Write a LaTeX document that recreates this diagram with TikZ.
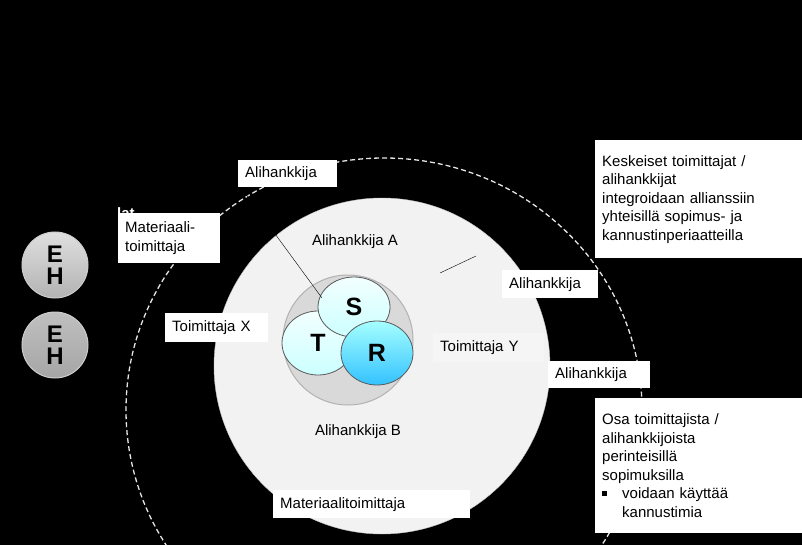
\documentclass[tikz,border=0pt]{standalone}
\usepackage{fontspec}
\setmainfont{Liberation Sans}
\usetikzlibrary{shapes.geometric}
\begin{document}
\begin{tikzpicture}[x=1pt,y=-1pt,
  lbl/.style={fill=white,inner xsep=7pt,inner ysep=3pt,font=\fontsize{15}{18.5}\selectfont,anchor=north west,align=left},
  plain/.style={font=\fontsize{15}{18}\selectfont,text=black},
  ball/.style={ellipse,draw=gray!70!black,line width=0.8pt,inner sep=0pt,font=\fontsize{25}{27}\selectfont\bfseries},
  eh/.style={circle,minimum size=66pt,inner sep=0pt,draw=gray!40,line width=1pt,align=center,font=\fontsize{24}{26}\selectfont\bfseries}]
\fill[black] (0,0) rectangle (802,545);
\useasboundingbox (0,0) rectangle (802,545);
\draw[white!80!gray,dashed,dash pattern=on 5pt off 3pt,line width=1.3pt] (384,410) ellipse [x radius=258,y radius=252];
\node[circle,fill=gray!10,draw=gray!50,minimum size=336pt,inner sep=0pt] (mid) at (382,366) {};
\node[circle,fill=gray!30,draw=gray!60,line width=1pt,minimum size=130pt,inner sep=0pt] (inner) at (348,340) {};
\node[ball,minimum width=72pt,minimum height=64pt,top color=cyan!5,bottom color=cyan!20] (T) at (318,343) {T};
\node[ball,minimum width=72pt,minimum height=60pt,top color=cyan!5,bottom color=cyan!20] (S) at (354,307) {S};
\node[ball,minimum width=72pt,minimum height=64pt,top color=cyan!35,bottom color=cyan!70!blue!80] (R) at (377,353) {R};
\node[eh,top color=gray!25,bottom color=gray!60] (eh1) at (55,265) {E\\[-4pt]H};
\node[eh,top color=gray!50,bottom color=gray!70] (eh2) at (55,345) {E\\[-4pt]H};
\node[text=white,font=\fontsize{15}{17}\selectfont\bfseries,anchor=north west,inner sep=0pt] (lat) at (117,207) {lat};
\node[lbl,text width=88pt,minimum height=50pt] (mat1) at (118,213) {Materiaali-\\toimittaja};
\node[lbl,text width=85pt,minimum height=27pt] (ali1) at (238,160) {Alihankkija};
\coordinate (c1) at (322,298);
\draw[black] (ali1.south west) ++(3,0) coordinate (a1) -- (c1);
\node[lbl,text width=89pt,minimum height=29pt] (tx) at (165,313) {Toimittaja X};
\node[lbl,fill=gray!8,text width=97pt,minimum height=29pt] (ty) at (433,333) {Toimittaja Y};
\node[plain] (aa) at (355,242) {Alihankkija A};
\node[plain] (ab) at (358,432) {Alihankkija B};
\node[lbl,text width=82pt,minimum height=28pt] (ali2) at (502,270) {Alihankkija};
\coordinate (l1) at (440,273);
\coordinate (l2) at (476,256);
\draw[black] (l1) -- (l2);
\node[lbl,text width=88pt,minimum height=27pt] (ali3) at (548,361) {Alihankkija};
\node[lbl,text width=183pt,minimum height=28pt] (mat2) at (273,490) {Materiaalitoimittaja};
\node[lbl,text width=193pt,minimum height=118pt] (k) at (595,140) {Keskeiset toimittajat /\\alihankkijat\\integroidaan allianssiin\\yhteisillä sopimus- ja\\kannustinperiaatteilla};
\node[lbl,text width=193pt,minimum height=135pt] (o) at (595,398) {Osa toimittajista /\\alihankkijoista\\perinteisillä\\sopimuksilla\\\makebox[20pt][l]{\rule[3pt]{5pt}{5pt}}voidaan käyttää\\\hspace*{20pt}kannustimia};
\end{tikzpicture}
\end{document}
